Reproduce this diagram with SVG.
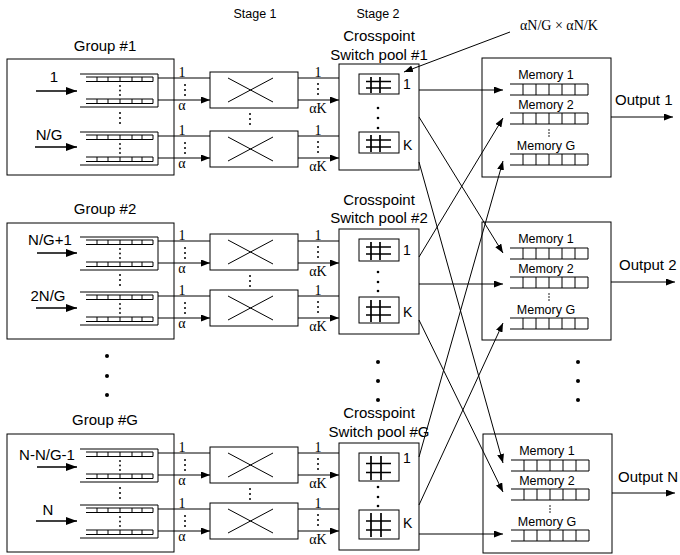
<svg xmlns="http://www.w3.org/2000/svg" xmlns:xlink="http://www.w3.org/1999/xlink" width="680" height="555" viewBox="0 0 680 555">
<style>
.bx{fill:#fff;stroke:#000;stroke-width:1}
.ln{fill:none;stroke:#000;stroke-width:1}
.hs{fill:none;stroke:#000;stroke-width:1.7}
.ar{fill:none;stroke:#000;stroke-width:1;marker-end:url(#ah)}
.ai{fill:none;stroke:#000;stroke-width:1.6;marker-end:url(#ahb)}
.sans{font-family:"Liberation Sans",Arial,Helvetica,sans-serif;fill:#000}
.f15{font-size:15px}
.f14{font-size:14px}
.f13{font-size:12.5px}
.ser{font-family:"Liberation Serif","Times New Roman",serif;font-size:14px;fill:#000}
.mid{text-anchor:middle}
</style>
<defs>
  <marker id="ah" markerUnits="userSpaceOnUse" markerWidth="9" markerHeight="7" refX="9" refY="3.5" orient="auto"><path d="M0,0 L9,3.5 L0,7 z" fill="#000"/></marker>
  <marker id="ahb" markerUnits="userSpaceOnUse" markerWidth="11" markerHeight="8" refX="11" refY="4" orient="auto"><path d="M0,0 L11,4 L0,8 z" fill="#000"/></marker>
  <!-- input queue row (open on the left) -->
  <g id="qrow"><path class="ln" d="M0,0H67M0,4.5H67M11,0V4.5M22,0V4.5M34,0V4.5M46,0V4.5M56,0V4.5M67,0V4.5"/></g>
  <!-- bracket holding a set of input queues -->
  <g id="qgrp">
    <path class="ln" d="M0,0H78V33H0"/>
    <use xlink:href="#qrow" x="6" y="3"/>
    <use xlink:href="#qrow" x="6" y="25"/>
    <circle cx="40" cy="12" r="0.9"/><circle cx="40" cy="16.5" r="0.9"/><circle cx="40" cy="21" r="0.9"/>
  </g>
  <!-- stage-1 switch box -->
  <g id="stg">
    <rect class="bx" x="0" y="-2" width="88" height="36"/>
    <path class="ln" d="M18,4L63,28M18,28L63,4"/>
  </g>
  <!-- small vertical ellipsis -->
  <g id="vd"><circle cx="0" cy="0" r="1"/><circle cx="0" cy="5" r="1"/><circle cx="0" cy="10" r="1"/></g>
  <!-- output memory queue -->
  <g id="mq"><path class="ln" d="M0,0H78M0,11H78M13,0V11M26,0V11M39,0V11M52,0V11M65,0V11M78,0V11"/></g>
  <!-- output memory block contents -->
  <g id="mem">
    <text class="sans f13 mid" x="64" y="21">Memory 1</text>
    <use xlink:href="#mq" x="28" y="26"/>
    <text class="sans f13 mid" x="64" y="51">Memory 2</text>
    <use xlink:href="#mq" x="28" y="55"/>
    <circle cx="67" cy="72" r="0.8"/><circle cx="67" cy="75" r="0.8"/><circle cx="67" cy="78" r="0.8"/>
    <text class="sans f13 mid" x="64" y="92">Memory G</text>
    <use xlink:href="#mq" x="28" y="96"/>
  </g>
</defs>

<rect width="680" height="555" fill="#fff"/>

<!-- column headings -->
<text class="sans f13 mid" x="255" y="18">Stage 1</text>
<text class="sans f13 mid" x="378" y="18">Stage 2</text>
<text class="ser" x="520" y="30">αN/G × αN/K</text>

<!-- input groups -->
<g id="group-1">
  <text class="sans f15 mid" x="105" y="51">Group #1</text>
  <rect class="bx" x="7" y="59" width="167" height="116"/>
  <use xlink:href="#qgrp" x="80" y="74"/>
  <use xlink:href="#vd" x="120" y="113"/>
  <use xlink:href="#qgrp" x="80" y="132"/>
  <text class="sans f15 mid" x="54" y="82">1</text>
  <text class="sans f15 mid" x="49" y="140">N/G</text>
</g>
<g id="group-2">
  <text class="sans f15 mid" x="105" y="214">Group #2</text>
  <rect class="bx" x="7" y="223" width="167" height="116"/>
  <use xlink:href="#qgrp" x="80" y="237"/>
  <use xlink:href="#vd" x="120" y="275"/>
  <use xlink:href="#qgrp" x="80" y="292"/>
  <text class="sans f15 mid" x="50" y="245">N/G+1</text>
  <text class="sans f15 mid" x="48" y="301">2N/G</text>
</g>
<g id="group-G">
  <text class="sans f15 mid" x="105" y="425">Group #G</text>
  <rect class="bx" x="7" y="434" width="167" height="118"/>
  <use xlink:href="#qgrp" x="80" y="449"/>
  <use xlink:href="#vd" x="120" y="488"/>
  <use xlink:href="#qgrp" x="80" y="505"/>
  <text class="sans f15 mid" x="47" y="460">N-N/G-1</text>
  <text class="sans f15 mid" x="48" y="515">N</text>
</g>
<g id="group-dots">
  <circle cx="107" cy="356" r="2"/><circle cx="107" cy="376" r="2"/><circle cx="107" cy="395" r="2"/>
</g>

<!-- stage 1 switches -->
<g id="stage1-1">
  <use xlink:href="#stg" x="210" y="74"/>
  <use xlink:href="#vd" x="250" y="114"/>
  <use xlink:href="#stg" x="210" y="133"/>
</g>
<g id="stage1-2">
  <use xlink:href="#stg" x="210" y="236"/>
  <use xlink:href="#vd" x="250" y="276"/>
  <use xlink:href="#stg" x="210" y="292"/>
</g>
<g id="stage1-G">
  <use xlink:href="#stg" x="210" y="449"/>
  <use xlink:href="#vd" x="250" y="489"/>
  <use xlink:href="#stg" x="210" y="505"/>
</g>

<!-- stage 2 crosspoint switch pools -->
<g id="pool-1">
  <text class="sans f15 mid" x="379" y="41">Crosspoint</text>
  <text class="sans f15 mid" x="379" y="60">Switch pool #1</text>
  <rect class="bx" x="339" y="64" width="80" height="106"/>
  <rect class="bx" x="359" y="74" width="40" height="20"/>
  <path class="hs" d="M366,81.5H391M366,88H391M371,77V93M380,77V93"/>
  <rect class="bx" x="359" y="132" width="40" height="21"/>
  <path class="hs" d="M366,140H391M366,147H391M371,135V152M380,135V152"/>
  <circle cx="378" cy="108" r="1.3"/><circle cx="378" cy="118" r="1.3"/><circle cx="378" cy="128" r="1.3"/>
  <text class="sans f14" x="403" y="89">1</text>
  <text class="sans f14" x="403" y="150">K</text>
</g>
<g id="pool-2">
  <text class="sans f15 mid" x="379" y="205">Crosspoint</text>
  <text class="sans f15 mid" x="379" y="223">Switch pool #2</text>
  <rect class="bx" x="339" y="229" width="80" height="105"/>
  <rect class="bx" x="359" y="239" width="40" height="22"/>
  <path class="hs" d="M366,247H391M366,254H391M371,242V260M380,242V260"/>
  <rect class="bx" x="359" y="297" width="40" height="26"/>
  <path class="hs" d="M366,307H391M366,315H391M371,300V322M380,300V322"/>
  <circle cx="378" cy="272" r="1.3"/><circle cx="378" cy="282" r="1.3"/><circle cx="378" cy="291" r="1.3"/>
  <text class="sans f14" x="403" y="255">1</text>
  <text class="sans f14" x="403" y="317">K</text>
</g>
<g id="pool-G">
  <text class="sans f15 mid" x="379" y="418">Crosspoint</text>
  <text class="sans f15 mid" x="379" y="437">Switch pool #G</text>
  <rect class="bx" x="339" y="443" width="80" height="107"/>
  <rect class="bx" x="359" y="453" width="40" height="28"/>
  <path class="hs" d="M366,463.5H391M366,472.5H391M371,456V480M381,456V480"/>
  <rect class="bx" x="359" y="510" width="40" height="29"/>
  <path class="hs" d="M366,521H391M366,530H391M371,513V537M381,513V537"/>
  <circle cx="378" cy="487" r="1.3"/><circle cx="378" cy="497" r="1.3"/><circle cx="378" cy="506" r="1.3"/>
  <text class="sans f14" x="403" y="463">1</text>
  <text class="sans f14" x="403" y="528">K</text>
</g>
<g id="pool-dots">
  <circle cx="378" cy="362" r="2"/><circle cx="378" cy="381" r="2"/><circle cx="378" cy="400" r="2"/>
</g>

<!-- output memories -->
<g id="output-1">
  <rect class="bx" x="482" y="58" width="129" height="119"/>
  <use xlink:href="#mem" x="482" y="58"/>
  <text class="sans f15" x="615" y="105">Output 1</text>
</g>
<g id="output-2">
  <rect class="bx" x="482" y="222" width="129" height="118"/>
  <use xlink:href="#mem" x="482" y="222"/>
  <text class="sans f15" x="619" y="270">Output 2</text>
</g>
<g id="output-N">
  <rect class="bx" x="483" y="434" width="129" height="119"/>
  <use xlink:href="#mem" x="483" y="434"/>
  <text class="sans f15" x="618" y="482">Output N</text>
</g>
<g id="output-dots">
  <circle cx="578" cy="362" r="2"/><circle cx="578" cy="381" r="2"/><circle cx="578" cy="400" r="2"/>
</g>

<!-- connectors -->
<g id="connectors">
  <!-- port inputs -->
  <path class="ai" d="M36,91H77"/>
  <path class="ai" d="M35,147H77"/>
  <path class="ai" d="M37,253H77"/>
  <path class="ai" d="M36,308H77"/>
  <path class="ai" d="M37,467H77"/>
  <path class="ai" d="M36,521H77"/>

  <!-- queues to stage 1 -->
  <path class="ar" d="M158,78H210M158,100H210"/>
  <path class="ar" d="M158,136H210M158,158H210"/>
  <path class="ar" d="M158,241H210M158,263H210"/>
  <path class="ar" d="M158,296H210M158,318H210"/>
  <path class="ar" d="M158,453H210M158,475H210"/>
  <path class="ar" d="M158,509H210M158,531H210"/>

  <!-- stage 1 to stage 2 -->
  <path class="ar" d="M298,78H339M298,100H339"/>
  <path class="ar" d="M298,136H339M298,158H339"/>
  <path class="ar" d="M298,241H339M298,263H339"/>
  <path class="ar" d="M298,296H339M298,318H339"/>
  <path class="ar" d="M298,453H339M298,475H339"/>
  <path class="ar" d="M298,509H339M298,531H339"/>

  <!-- link labels -->
  <g class="ser mid">
    <text x="182" y="77">1</text><text x="182" y="110">α</text>
    <text x="182" y="135">1</text><text x="182" y="168">α</text>
    <text x="182" y="240">1</text><text x="182" y="273">α</text>
    <text x="182" y="295">1</text><text x="182" y="328">α</text>
    <text x="182" y="452">1</text><text x="182" y="485">α</text>
    <text x="182" y="508">1</text><text x="182" y="541">α</text>
    <text x="318" y="77">1</text><text x="318" y="113">αK</text>
    <text x="318" y="135">1</text><text x="318" y="171">αK</text>
    <text x="318" y="240">1</text><text x="318" y="276">αK</text>
    <text x="318" y="295">1</text><text x="318" y="331">αK</text>
    <text x="318" y="452">1</text><text x="318" y="488">αK</text>
    <text x="318" y="508">1</text><text x="318" y="544">αK</text>
  </g>
  <use xlink:href="#vd" x="185" y="85"/><use xlink:href="#vd" x="185" y="143"/>
  <use xlink:href="#vd" x="185" y="248"/><use xlink:href="#vd" x="185" y="303"/>
  <use xlink:href="#vd" x="185" y="460"/><use xlink:href="#vd" x="185" y="516"/>
  <use xlink:href="#vd" x="318" y="84"/><use xlink:href="#vd" x="318" y="142"/>
  <use xlink:href="#vd" x="318" y="247"/><use xlink:href="#vd" x="318" y="302"/>
  <use xlink:href="#vd" x="318" y="459"/><use xlink:href="#vd" x="318" y="515"/>

  <!-- switch pools to output memories -->
  <path class="ar" d="M419,90H503"/>
  <path class="ar" d="M419,117L503,253"/>
  <path class="ar" d="M419,162L503,463"/>
  <path class="ar" d="M419,257L503,118"/>
  <path class="ar" d="M419,284H503"/>
  <path class="ar" d="M419,320L503,492"/>
  <path class="ar" d="M419,457L503,161"/>
  <path class="ar" d="M419,505L503,323"/>
  <path class="ar" d="M419,534H503"/>

  <!-- outputs -->
  <path class="ar" d="M611,117H673"/>
  <path class="ar" d="M611,282H675"/>
  <path class="ar" d="M612,493H675"/>

  <!-- crosspoint size callout -->
  <path class="ar" d="M510,32L404,72"/>
</g>
</svg>
